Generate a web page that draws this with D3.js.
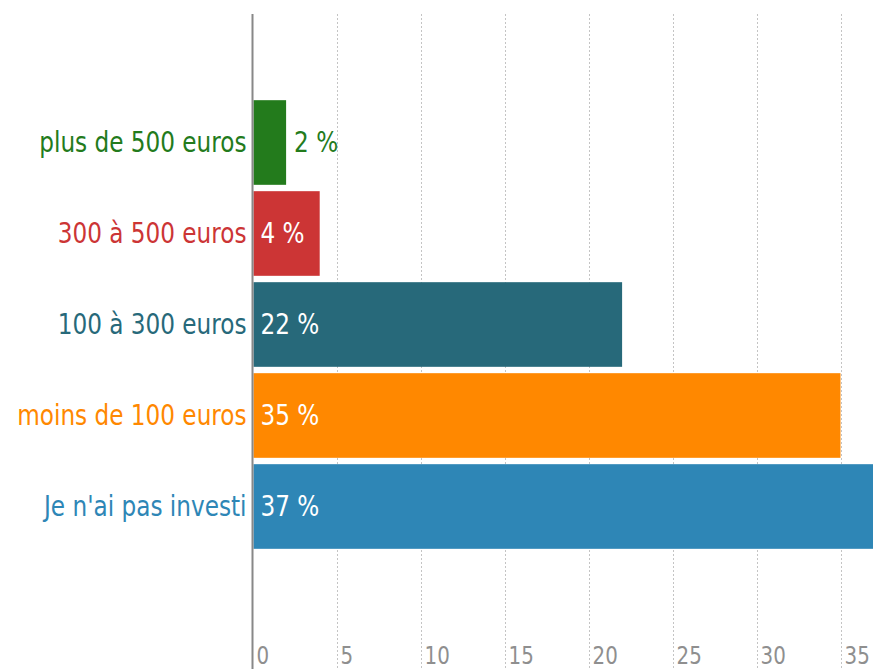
<!DOCTYPE html>
<html>
<head>
<meta charset="utf-8">
<script src="https://cdn.jsdelivr.net/npm/d3@7"></script>
<style>
  body { margin: 0; background: #fff; }
  svg { display: block; }
  text { font-family: "DejaVu Sans Condensed", "Liberation Sans Narrow", sans-serif; }
</style>
</head>
<body>
<div id="chart"></div>
<script>
// données
var categories = ["plus de 500 euros", "300 à 500 euros", "100 à 300 euros", "moins de 100 euros", "Je n'ai pas investi"];
var values = [2, 4, 22, 35, 37];
var colors = ["#237b1c", "#cc3535", "#27697a", "#ff8800", "#2e86b6"];
var tickValues = [0, 5, 10, 15, 20, 25, 30, 35];

var width = 873,
    height = 669,
    x0 = 252.5,
    axisTop = 14,
    squeeze = 0.92; // police plus étroite que DejaVu

var svg = d3.select("#chart")
    .append("svg")
    .attr("width", width)
    .attr("height", height);

var x = d3.scaleLinear()
    .domain([0, 37])
    .range([x0, x0 + 37 * 16.8]);

var y = d3.scaleBand()
    .domain(categories)
    .range([97, 552])
    .paddingInner(0.07)
    .paddingOuter(0.035);

// grille pointillée
svg.append("g")
    .selectAll("line")
    .data(tickValues.slice(1))
    .join("line")
    .attr("x1", d => Math.round(x(d)) + 0.5)
    .attr("x2", d => Math.round(x(d)) + 0.5)
    .attr("y1", axisTop)
    .attr("y2", height)
    .style("stroke", "#c4c4c4")
    .style("stroke-width", "1px")
    .style("stroke-dasharray", "2,2");

// libellés de l'axe
svg.append("g")
    .selectAll("text")
    .data(tickValues)
    .join("text")
    .attr("transform", d => "translate(" + (x(d) + 4) + ",664) scale(" + squeeze + ",1)")
    .text(d => d)
    .style("fill", "#8f8f8f")
    .style("font-size", "24px");

// barres
svg.append("g")
    .selectAll("rect")
    .data(values)
    .join("rect")
    .attr("x", x(0) + 1)
    .attr("y", (d, i) => y(categories[i]))
    .attr("width", d => x(d) - x(0) - 1)
    .attr("height", y.bandwidth())
    .style("fill", (d, i) => colors[i]);

// axe vertical
svg.append("line")
    .attr("x1", x0)
    .attr("x2", x0)
    .attr("y1", axisTop)
    .attr("y2", height)
    .style("stroke", "#888")
    .style("stroke-width", "2px");

// catégories
svg.append("g")
    .selectAll("text")
    .data(categories)
    .join("text")
    .attr("transform", d => "translate(" + (x0 - 6) + "," + (y(d) + y.bandwidth() / 2) + ") scale(" + squeeze + ",1)")
    .attr("dy", "0.35em")
    .attr("text-anchor", "end")
    .text(d => d)
    .style("fill", (d, i) => colors[i])
    .style("font-size", "28px");

// valeurs
svg.append("g")
    .selectAll("text")
    .data(values)
    .join("text")
    .attr("transform", (d, i) => "translate(" + (d < 3 ? x(d) + 8 : x(0) + 8) + "," + (y(categories[i]) + y.bandwidth() / 2) + ") scale(" + squeeze + ",1)")
    .attr("dy", "0.35em")
    .text(d => d + " %")
    .style("fill", (d, i) => d < 3 ? colors[i] : "#fff")
    .style("font-size", "28px");
</script>
</body>
</html>
